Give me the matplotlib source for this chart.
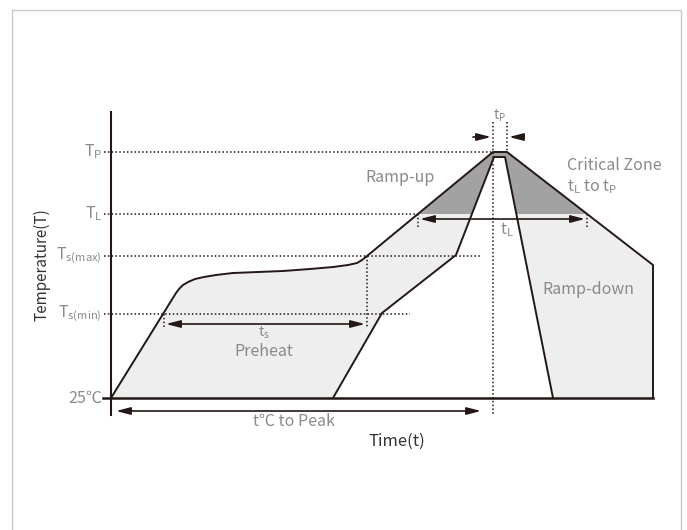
import numpy as np
import matplotlib.pyplot as plt
from matplotlib.patches import Polygon, Rectangle

plt.rcParams['font.family'] = ['Noto Sans CJK SC', 'DejaVu Sans']
plt.rcParams['mathtext.fontset'] = 'custom'
plt.rcParams['mathtext.rm'] = 'Noto Sans CJK SC'
plt.rcParams['mathtext.it'] = 'Noto Sans CJK SC'
plt.rcParams['mathtext.default'] = 'rm'

# temperature levels (pixel rows of the drawing) and their labels
level_labels = ['T$_P$', 'T$_L$', 'T$_{s(max)}$', 'T$_{s(min)}$', '25℃']
level_y = [152, 214, 256, 314, 398]
level_dot_end = [493, 418, 480, 410, 0]

# outer (upper limit) profile
outer_x = [111, 176, 179, 183, 188, 195, 204, 216, 233, 258, 283, 310, 333,
           348, 357, 362, 367, 493, 507, 653, 653]
outer_y = [398, 293, 289, 285, 282, 279, 277, 275, 273, 272, 271, 269, 267,
           265, 263, 260, 256, 152, 152, 265, 398]

# inner (lower limit) profile
inner_x = [333, 382, 456, 494, 505, 553]
inner_y = [398, 313, 255, 157, 157, 398]

LINE = '#231815'
GREY_TXT = '#8a8a8a'
LIGHT = '#eeeeee'
DARK = '#a2a2a2'


def arrow(ax, x0, x1, y, style='<|-|>'):
    ax.annotate('', xy=(x1, y), xytext=(x0, y),
                arrowprops=dict(arrowstyle=style + ',head_length=0.85,head_width=0.22',
                                color=LINE, lw=1.2, shrinkA=0, shrinkB=0))


def vdot(ax, x, y0, y1):
    ax.plot([x, x], [y0, y1], color=LINE, lw=1.1, ls=(0, (1, 1.5)))


def main():
    fig = plt.figure(figsize=(6.87, 5.30), dpi=100)
    ax = fig.add_axes([0, 0, 1, 1])
    ax.set_xlim(0, 687)
    ax.set_ylim(530, 0)
    ax.axis('off')

    ax.add_patch(Rectangle((12, 10), 669, 540, fill=False, ec='#c8c8c8', lw=1))

    # shaded region between the two profiles
    pts = list(zip(outer_x, outer_y)) + list(zip(inner_x[::-1], inner_y[::-1]))
    ax.add_patch(Polygon(pts, closed=True, fc=LIGHT, ec='none'))
    dark = Polygon(pts, closed=True, fc=DARK, ec='none')
    ax.add_patch(dark)
    clip = Rectangle((0, 0), 687, level_y[1], transform=ax.transData)
    dark.set_clip_path(clip)

    # level dotted lines and labels
    for lab, y, xe in zip(level_labels, level_y, level_dot_end):
        if xe:
            ax.plot([104, xe], [y, y], color=LINE, lw=1.1, ls=(0, (1, 1.5)))
        ax.text(102, y, lab, ha='right', va='center', fontsize=11.5, color=GREY_TXT)

    # profiles and axes
    ax.plot(outer_x, outer_y, color=LINE, lw=1.4)
    ax.plot(inner_x, inner_y, color=LINE, lw=1.4)
    ax.plot([103, 653], [398, 398], color=LINE, lw=1.8)
    ax.plot([111, 111], [112, 415], color=LINE, lw=1.5)

    # vertical markers
    vdot(ax, 493, 122, 416)
    vdot(ax, 507, 122, 152)
    vdot(ax, 418, 214, 228)
    vdot(ax, 587, 214, 227)
    vdot(ax, 367, 256, 328)
    vdot(ax, 164, 314, 328)

    # time spans
    arrow(ax, 166, 365, 324)
    arrow(ax, 420, 585, 219)
    arrow(ax, 116, 481, 411)
    arrow(ax, 473, 491, 137, style='-|>')
    arrow(ax, 524, 509, 137, style='-|>')

    # annotations
    kw = dict(color=GREY_TXT, fontsize=11.5)
    ax.text(400, 178, 'Ramp-up', ha='center', va='center', **kw)
    ax.text(567, 165, 'Critical Zone', ha='left', va='center', **kw)
    ax.text(567, 187, 't$_L$ to t$_P$', ha='left', va='center', **kw)
    ax.text(500, 116, 't$_P$', ha='center', va='center', color=GREY_TXT, fontsize=10)
    ax.text(507, 230, 't$_L$', ha='center', va='center', **kw)
    ax.text(588, 289, 'Ramp-down', ha='center', va='center', **kw)
    ax.text(264, 333, 't$_s$', ha='center', va='center', color=GREY_TXT, fontsize=10.5)
    ax.text(264, 352, 'Preheat', ha='center', va='center', **kw)
    ax.text(294, 421, 't℃ to Peak', ha='center', va='center', **kw)

    ax.text(397, 441, 'Time(t)', ha='center', va='center', fontsize=12, color='#333333')
    ax.text(42, 265, 'Temperature(T)', ha='center', va='center', rotation=90,
            fontsize=11, color='#333333')

    fig.savefig('out.png', dpi=100)


if __name__ == "__main__":
    main()
